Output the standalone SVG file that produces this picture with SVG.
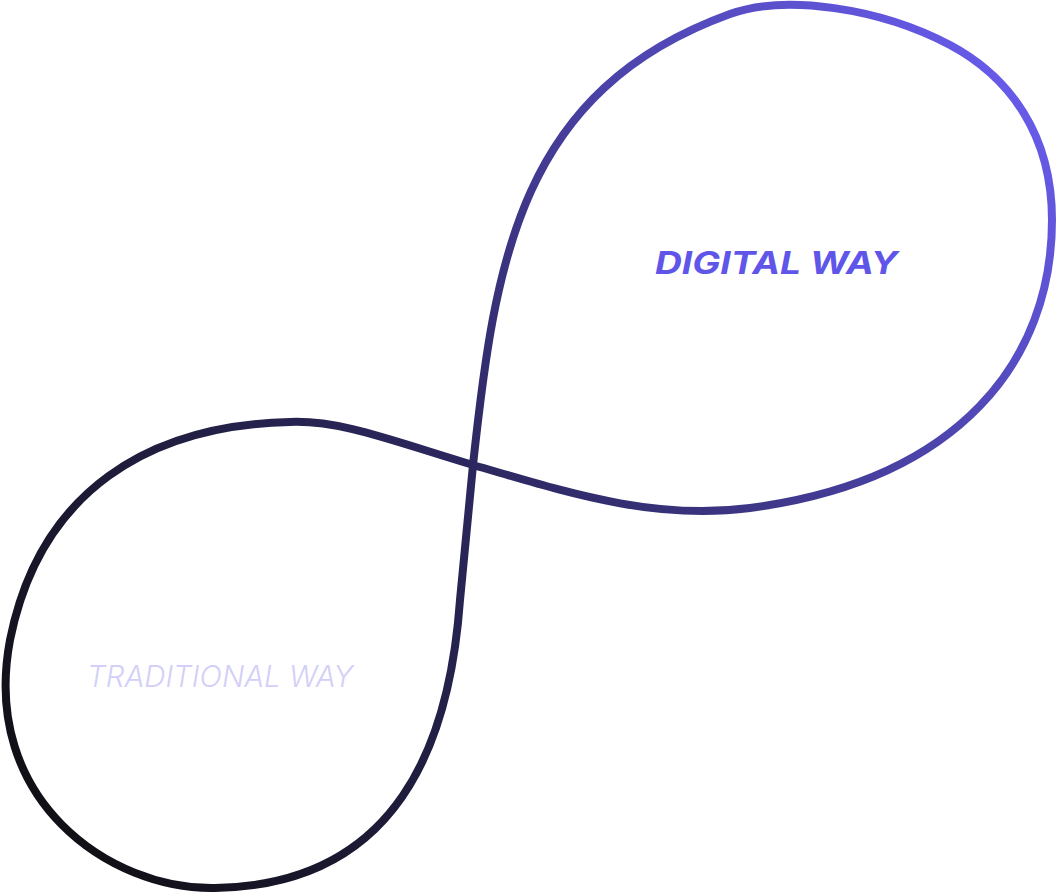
<svg xmlns="http://www.w3.org/2000/svg" width="1058" height="894" viewBox="0 0 1058 894">
<defs>
<linearGradient id="g" gradientUnits="userSpaceOnUse" x1="60" y1="860" x2="1040" y2="60">
<stop offset="0" stop-color="#0f0f13"/>
<stop offset="0.45" stop-color="#2c285f"/>
<stop offset="1" stop-color="#6a5df0"/>
</linearGradient>
<style>
.loop{fill:none;stroke:url(#g);stroke-width:8;stroke-linejoin:round}
.lbl{font-family:Inter,"Liberation Sans",sans-serif;font-style:italic}
</style>
</defs>
<g id="connectors">
<path class="loop" d="M 473 465 C 495 260, 520 90, 730 14 C 785 -6, 880 8, 950 45 C 1010 77, 1052 135, 1052 220 C 1052 360, 960 480, 750 508 C 650 521, 560 490, 473 465 C 390 440, 340 420, 290 422 C 150 425, 40 490, 10 640 C -20 800, 110 890, 215 888 C 400 885, 450 740, 460 600 C 466 540, 470 500, 473 465 Z"/>
</g>
<g id="digital">
<text class="lbl" x="655" y="274" font-size="31" font-weight="700" fill="#5f56e9" textLength="243" lengthAdjust="spacingAndGlyphs">DIGITAL WAY</text>
</g>
<g id="traditional">
<text class="lbl" x="87" y="687" font-size="30" font-weight="300" fill="#d3cff8" textLength="266" lengthAdjust="spacingAndGlyphs">TRADITIONAL WAY</text>
</g>
</svg>
